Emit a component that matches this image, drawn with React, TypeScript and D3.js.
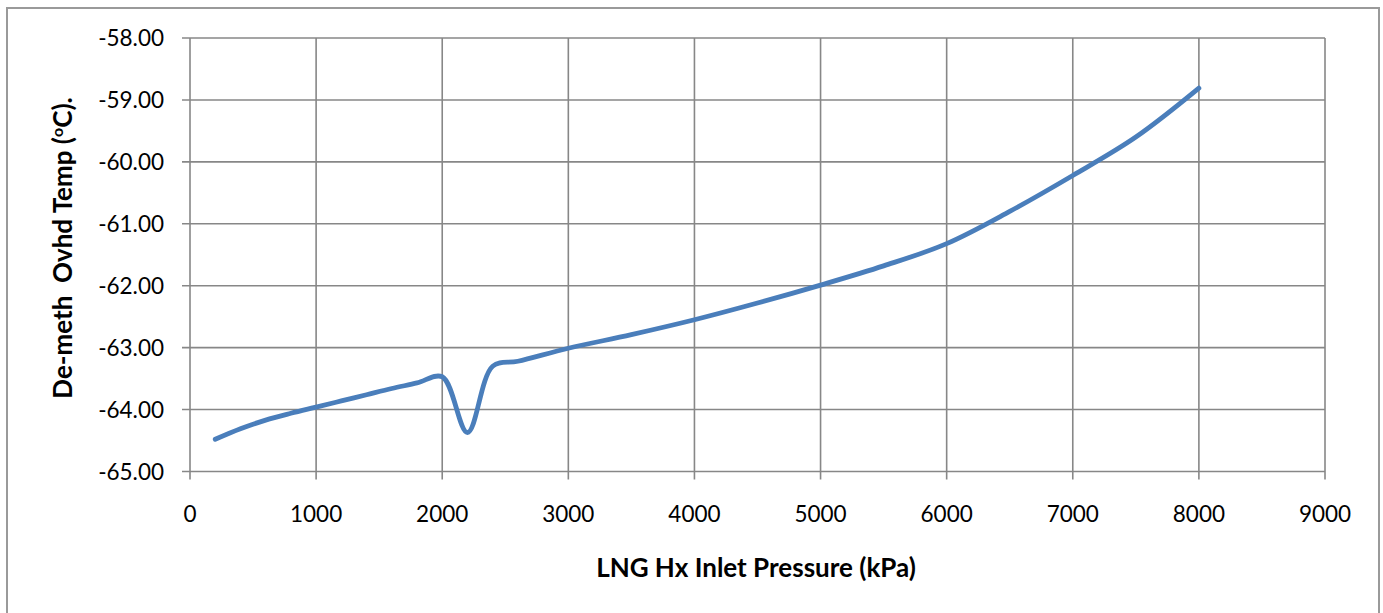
import React from "react";
import * as d3 from "d3";

const pressures = [200, 400, 600, 800, 1000, 1200, 1400, 1600, 1800, 2000, 2200, 2400, 2600, 3000, 3500, 4000, 4500, 5000, 5500, 6000, 6500, 7000, 7500, 8000];
const temps = [-64.48, -64.31, -64.17, -64.06, -63.96, -63.86, -63.76, -63.66, -63.57, -63.47, -64.37, -63.3, -63.22, -63.01, -62.79, -62.55, -62.28, -61.99, -61.68, -61.32, -60.8, -60.22, -59.6, -58.81];
const xTicks = [0, 1000, 2000, 3000, 4000, 5000, 6000, 7000, 8000, 9000];
const yTicks = [-58, -59, -60, -61, -62, -63, -64, -65];

const W = 1383;
const H = 613;
const M = { left: 190, right: 1325, top: 38, bottom: 471.5 };

export default function App() {
  const x = d3.scaleLinear().domain([0, 9000]).range([M.left, M.right]);
  const y = d3.scaleLinear().domain([-65, -58]).range([M.bottom, M.top]);
  const data = pressures.map((p, i) => [p, temps[i]] as [number, number]);
  const line = d3
    .line<[number, number]>()
    .x((d) => x(d[0]))
    .y((d) => y(d[1]))
    .curve(d3.curveCatmullRom.alpha(0.5));
  const grid = "#878787";
  const font = "Lato, 'Open Sans', sans-serif";
  return (
    <svg
      width={W}
      height={H}
      style={{ position: "absolute", left: 0, top: 0, background: "#fff" }}
    >
      <rect x={7} y={8} width={1372} height={620} fill="#fff" stroke="#9a9a9a" strokeWidth={2} />
      {yTicks.map((t) => (
        <g key={"y" + t}>
          <line x1={M.left - 8} x2={M.right} y1={y(t)} y2={y(t)} stroke={grid} strokeWidth={1.6} />
          <text
            x={164}
            y={y(t)}
            dy="0.36em"
            textAnchor="end"
            fontFamily={font}
            fontSize={22.5}
            fill="#000"
          >
            {t.toFixed(2)}
          </text>
        </g>
      ))}
      {xTicks.map((t) => (
        <g key={"x" + t}>
          <line x1={x(t)} x2={x(t)} y1={M.top} y2={M.bottom + 8} stroke={grid} strokeWidth={1.6} />
          <text
            x={x(t)}
            y={522}
            textAnchor="middle"
            fontFamily={font}
            fontSize={22.5}
            fill="#000"
          >
            {t}
          </text>
        </g>
      ))}
      <path d={line(data) || ""} fill="none" stroke="#4A7EBB" strokeWidth={4.8} strokeLinecap="round" strokeLinejoin="round" />
      <text
        x={756}
        y={577}
        textAnchor="middle"
        fontFamily={font}
        fontWeight="bold"
        fontSize={26}
        fill="#000"
      >
        LNG Hx Inlet Pressure (kPa)
      </text>
      <text
        transform={`translate(72,248) rotate(-90)`}
        textAnchor="middle"
        fontFamily={font}
        fontWeight="bold"
        fontSize={26}
        fill="#000"
        xmlSpace="preserve"
        style={{ whiteSpace: "pre" }}
      >
        {"De-meth  Ovhd Temp ("}
        <tspan fontSize={16} dy={-9}>o</tspan>
        <tspan dy={9}>C).</tspan>
      </text>
    </svg>
  );
}
